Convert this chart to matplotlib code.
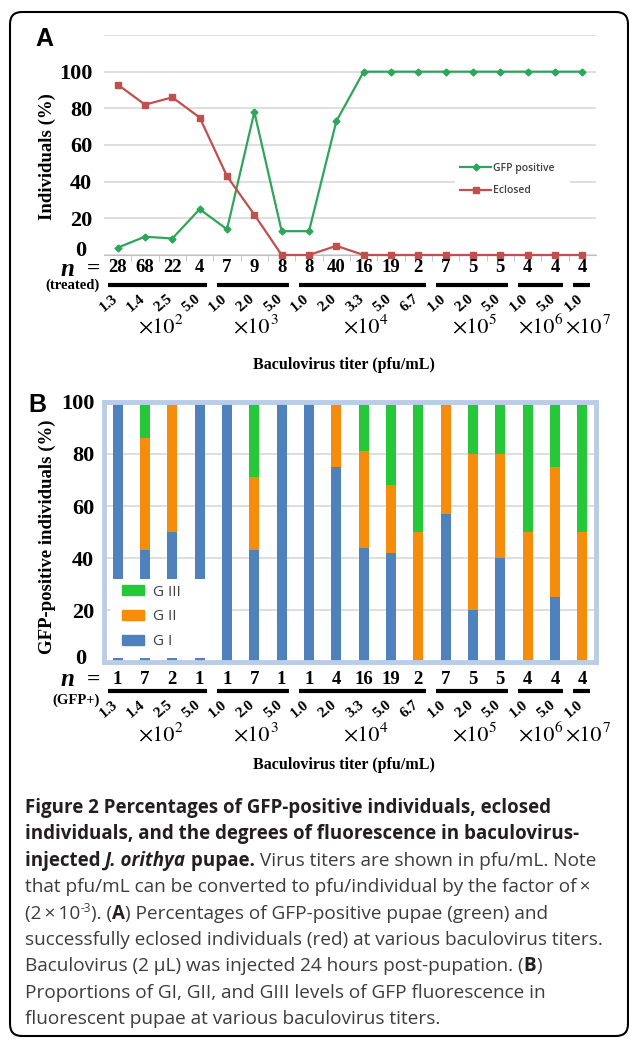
import matplotlib
matplotlib.use("Agg")
import matplotlib.pyplot as plt
from matplotlib.patches import FancyBboxPatch, Rectangle, Patch
from matplotlib.lines import Line2D
from matplotlib.transforms import blended_transform_factory
import numpy as np

# ---- data ----
titers = ["1.3", "1.4", "2.5", "5.0", "1.0", "2.0", "5.0", "1.0", "2.0",
          "3.3", "5.0", "6.7", "1.0", "2.0", "5.0", "1.0", "5.0", "1.0"]
group_sizes = [4, 3, 5, 3, 2, 1]
group_exps = [2, 3, 4, 5, 6, 7]

n_treated = [28, 68, 22, 4, 7, 9, 8, 8, 40, 16, 19, 2, 7, 5, 5, 4, 4, 4]
gfp_positive = [4, 10, 9, 25, 14, 78, 13, 13, 73, 100, 100, 100, 100, 100, 100, 100, 100, 100]
eclosed = [93, 82, 86, 75, 43, 22, 0, 0, 5, 0, 0, 0, 0, 0, 0, 0, 0, 0]

n_gfp = [1, 7, 2, 1, 1, 7, 1, 1, 4, 16, 19, 2, 7, 5, 5, 4, 4, 4]
g_one = [100, 43, 50, 100, 100, 43, 100, 100, 75, 44, 42, 0, 57, 20, 40, 0, 25, 0]
g_two = [0, 43, 50, 0, 0, 28, 0, 0, 25, 37, 26, 50, 43, 60, 40, 50, 50, 50]
g_three = [0, 14, 0, 0, 0, 29, 0, 0, 0, 19, 32, 50, 0, 20, 20, 50, 25, 50]

GREEN = '#2ea65a'
RED = '#c0504d'
BLUE = '#4f81bd'
ORANGE = '#f58c0a'
GREEN_B = '#26c83a'
SERIF = 'Liberation Serif'

W, H = 629, 1039
fig = plt.figure(figsize=(W / 100, H / 100), dpi=100)
renderer = fig.canvas.get_renderer()


def fx(px):
    return px / W


def fy(py):
    return 1 - py / H


x = np.arange(len(titers))

# outer rounded frame
frame = FancyBboxPatch((0.10, 0.03), 6.18, 10.24,
                       boxstyle='round,pad=0,rounding_size=0.12',
                       transform=fig.dpi_scale_trans, fill=False,
                       lw=1.5, ec='black')
fig.add_artist(frame)


def style_yticks(ax, pad, zero_right, zero_y):
    labels = [str(v) for v in ax.get_yticks()[1:].astype(int)]
    if ax.get_ylim()[1] > 100:
        labels[-1] = ''
    ax.set_yticklabels([''] + labels)
    ax.tick_params(axis='y', length=0, pad=pad)
    for lab in ax.get_yticklabels():
        lab.set_fontfamily(SERIF)
        lab.set_fontweight('bold')
        lab.set_fontsize(16)
    # the zero label sits a little left of the others in the original
    fig.text(fx(zero_right), fy(zero_y), '0', ha='right', va='center',
             family=SERIF, weight='bold', size=16)


def below_axis(ax, n_vals, n_y, line_y, tick_y, exp_y, xlabel_y, side_label, side_y):
    tr = blended_transform_factory(ax.transData, fig.transFigure)
    for i, n in enumerate(n_vals):
        ax.text(i, fy(n_y), str(n), transform=tr, ha='center', va='center',
                family=SERIF, weight='bold', size=13.5)
    fig.text(fx(100), fy(n_y + 1), '=', ha='right', va='center',
             family=SERIF, weight='bold', size=17)
    fig.text(fx(74), fy(n_y + 1), 'n', ha='right', va='center',
             family=SERIF, weight='bold', style='italic', size=18)
    fig.text(fx(100), fy(side_y), side_label, ha='right', va='center',
             family=SERIF, weight='bold', size=10.5)
    start = 0
    for size, e in zip(group_sizes, group_exps):
        end = start + size - 1
        ax.add_line(Line2D([start - 0.35, end + 0.28], [fy(line_y)] * 2,
                           transform=tr, color='black', lw=3,
                           solid_capstyle='butt', clip_on=False))
        shift = {1: 0.05, 2: -0.2}.get(size, -0.1)
        base = ax.text((start + end) / 2 + shift, fy(exp_y), '\u00d710',
                       transform=tr, ha='center', va='center',
                       family='STIXGeneral', size=16)
        bb = base.get_window_extent(renderer)
        fig.text(fx(bb.x1 + 0.5), fy(exp_y - 2), str(e), ha='left',
                 va='bottom', family='STIXGeneral', size=11)
        start = end + 1
    for i, t in enumerate(titers):
        ax.text(i - 0.05, fy(tick_y), t, transform=tr, rotation=40,
                rotation_mode='anchor', ha='right', va='center',
                family=SERIF, weight='bold', size=11)
    fig.text(fx(344), fy(xlabel_y), 'Baculovirus titer (pfu/mL)',
             ha='center', va='center', family=SERIF, weight='bold', size=11.5)


# ---------------- Panel A ----------------
axA = fig.add_axes([fx(104), fy(255), 492 / W, 220 / H])
axA.set_xlim(-0.5, 17.5)
axA.set_ylim(0, 120)
axA.set_yticks(range(0, 121, 20))
axA.grid(axis='y', color='#d9d9d9', lw=1.2)
axA.set_axisbelow(True)
for s in ['top', 'right', 'left']:
    axA.spines[s].set_visible(False)
axA.spines['bottom'].set_color('#bfbfbf')
axA.set_xticks([])
axA.set_xticks(x[:-1] + 0.5, minor=True)
axA.tick_params(axis='x', which='minor', length=4, color='#bfbfbf', labelbottom=False)
style_yticks(axA, 8.5, 86, 251)

axA.plot(x, gfp_positive, color=GREEN, lw=1.6, marker='D', ms=3.5,
         label='GFP positive', clip_on=False, zorder=3)
axA.plot(x, eclosed, color=RED, lw=1.6, marker='s', ms=4,
         label='Eclosed', clip_on=False, zorder=3)

axA.add_patch(Rectangle((0.713, 0.227), 0.234, 0.205, transform=axA.transAxes,
                        facecolor='white', edgecolor='none', zorder=1.5))
legA = axA.legend(loc='upper left', bbox_to_anchor=(0.724, 0.418), frameon=False,
                  borderpad=0, borderaxespad=0, handlelength=3.0,
                  handletextpad=0.15, labelspacing=1.1,
                  prop={'family': 'Open Sans', 'weight': 'semibold', 'size': 7.5})
for t in legA.get_texts():
    t.set_color('#404040')

fig.text(fx(44), fy(39), 'A', ha='center', va='center',
         family='Liberation Sans', weight='bold', size=18)
fig.text(fx(47), fy(157), 'Individuals (%)', rotation=90, ha='center',
         va='center', family=SERIF, weight='bold', size=13.5)
below_axis(axA, n_treated, 268, 285, 297, 329, 365, '(treated)', 285)

# ---------------- Panel B ----------------
axB = fig.add_axes([fx(104), fy(662), 492 / W, 260 / H])
axB.set_xlim(-0.5, 17.5)
axB.set_ylim(0, 100)
bw = 0.37
one = np.array(g_one)
two = np.array(g_two)
three = np.array(g_three)
axB.bar(x, one, bw, color=BLUE, zorder=2)
axB.bar(x, two, bw, bottom=one, color=ORANGE, zorder=2)
axB.bar(x, three, bw, bottom=one + two, color=GREEN_B, zorder=2)
axB.set_yticks(range(0, 101, 20))
axB.grid(axis='y', color='#d9d9d9', lw=1.2)
axB.set_axisbelow(True)
for s in axB.spines.values():
    s.set_color('#b9cde8')
    s.set_linewidth(3.5)
axB.set_xticks([])
style_yticks(axB, 7, 86, 659)

axB.add_patch(Rectangle((0.0142, 0.0154), 0.2256, 0.304, transform=axB.transAxes,
                        facecolor='white', edgecolor='none', zorder=4))
handles = [Patch(color=GREEN_B, label='G III'), Patch(color=ORANGE, label='G II'),
           Patch(color=BLUE, label='G I')]
legB = axB.legend(handles=handles, loc='upper left', bbox_to_anchor=(0.0366, 0.298),
                  frameon=False, borderpad=0, borderaxespad=0,
                  handlelength=1.45, handleheight=0.6, handletextpad=0.6,
                  labelspacing=0.65,
                  prop={'family': 'Open Sans', 'size': 11})
legB.set_zorder(5)
for t in legB.get_texts():
    t.set_color('#404040')

fig.text(fx(37), fy(405), 'B', ha='center', va='center',
         family='Liberation Sans', weight='bold', size=18)
fig.text(fx(47), fy(537), 'GFP-positive individuals (%)', rotation=90,
         ha='center', va='center', family=SERIF, weight='bold', size=13.5)
below_axis(axB, n_gfp, 679, 691, 703, 737, 765, '(GFP+)', 700)

# ---------------- caption ----------------
CAP = 'Open Sans'
styles = {
    'r': dict(weight='normal', style='normal', color='#3c3c3c'),
    'b': dict(weight='bold', style='normal', color='#231f20'),
    'bi': dict(weight='bold', style='italic', color='#231f20'),
    'sup': dict(weight='normal', style='normal', color='#3c3c3c'),
}


def advance(s, size, st):
    t1 = fig.text(0, 0, '|' + s + '|', family=CAP, size=size, **styles[st])
    t2 = fig.text(0, 0, '||', family=CAP, size=size, **styles[st])
    w = t1.get_window_extent(renderer).width - t2.get_window_extent(renderer).width
    t1.remove()
    t2.remove()
    return w


cap_lines = [
    [("Figure 2 Percentages of GFP-positive individuals, eclosed", 'b')],
    [("individuals, and the degrees of fluorescence in baculovirus-", 'b')],
    [("injected ", 'b'), ("J. orithya", 'bi'), (" pupae.", 'b'),
     (" Virus titers are shown in pfu/mL. Note", 'r')],
    [("that pfu/mL can be converted to pfu/individual by the factor of\u2009\u00d7", 'r')],
    [("(2\u2009\u00d7\u200910", 'r'), ("-3", 'sup'), ("). (", 'r'), ("A", 'b'),
     (") Percentages of GFP-positive pupae (green) and", 'r')],
    [("successfully eclosed individuals (red) at various baculovirus titers.", 'r')],
    [("Baculovirus (2 \u00b5L) was injected 24 hours post-pupation. (", 'r'),
     ("B", 'b'), (")", 'r')],
    [("Proportions of GI, GII, and GIII levels of GFP fluorescence in", 'r')],
    [("fluorescent pupae at various baculovirus titers.", 'r')],
]

reg_size = 12 * 563 / advance(cap_lines[3][0][0], 12, 'r')
bold_size = 12 * 552 / advance(cap_lines[1][0][0], 12, 'b')

for k, line in enumerate(cap_lines):
    xp = 25
    base = 813 + 26.4 * k
    for txt, st in line:
        if st == 'sup':
            size = reg_size * 0.62
            yp = base - reg_size * 0.5
        elif st == 'r':
            size = reg_size
            yp = base
        else:
            size = bold_size
            yp = base
        fig.text(fx(xp), fy(yp), txt, ha='left', va='baseline',
                 family=CAP, size=size, **styles[st])
        xp += advance(txt, size, st)

fig.savefig('out.png', dpi=100, facecolor='white')
